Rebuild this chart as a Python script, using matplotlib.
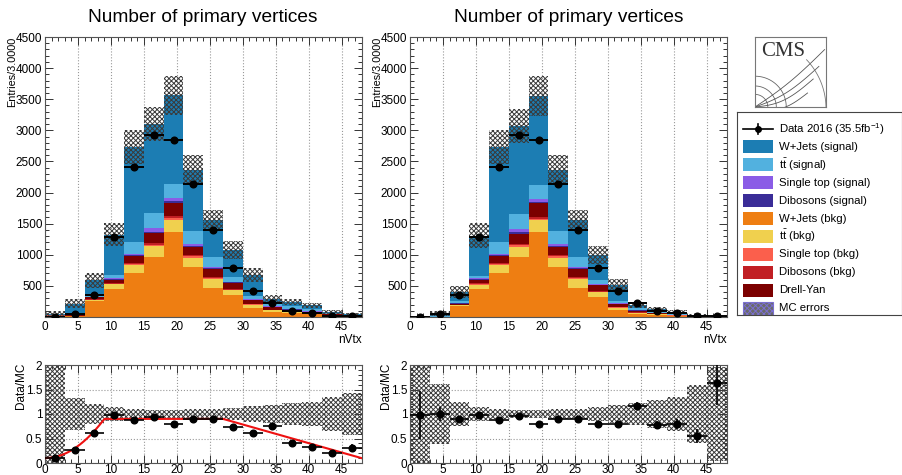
import numpy as np
import matplotlib
matplotlib.use("Agg")
import matplotlib.pyplot as plt
from matplotlib.patches import Rectangle
from matplotlib.ticker import MultipleLocator, FixedLocator

plt.rcParams['font.family'] = ['Liberation Sans', 'DejaVu Sans']
plt.rcParams['mathtext.fontset'] = 'custom'
plt.rcParams['mathtext.rm'] = 'Liberation Sans'
plt.rcParams['mathtext.it'] = 'Liberation Sans:italic'
plt.rcParams['hatch.linewidth'] = 0.7

# ---------------- data ----------------
bin_edges = np.arange(0, 49, 3)
data_counts = [4, 55, 360, 1283, 2405, 2920, 2840, 2140, 1400, 795, 410, 225, 100, 62, 16, 13]

# MC samples, stacked from bottom to top
wjets_bkg   = [22, 18, 253, 457, 709, 966, 1369, 805, 470, 350, 150, 85, 65, 45, 25, 12]
ttbar_bkg   = [2, 3, 22, 69, 123, 172, 188, 151, 140, 80, 45, 20, 15, 10, 5, 3]
stop_bkg    = [1, 1, 4, 10, 18, 25, 30, 20, 12, 8, 8, 5, 4, 3, 2, 1]
diboson_bkg = [1, 1, 6, 12, 20, 30, 30, 25, 15, 10, 10, 8, 6, 5, 2, 1]
drell_yan   = [3, 5, 35, 54, 113, 159, 219, 126, 138, 100, 56, 40, 30, 22, 10, 5]
diboson_sig = [1, 1, 3, 8, 12, 20, 25, 13, 10, 8, 6, 4, 3, 2, 1, 1]
stop_sig    = [1, 1, 5, 15, 25, 51, 45, 30, 15, 14, 10, 8, 6, 5, 2, 1]
ttbar_sig   = [2, 6, 40, 46, 178, 242, 226, 210, 166, 74, 55, 50, 40, 30, 13, 6]
wjets_sig   = [10, 179, 223, 649, 1532, 1435, 1428, 990, 591, 431, 331, 75, 71, 63, 20, 12]

# pile-up weights applied to all MC in the right-hand panel
pu_weight = [0.095, 0.256, 0.677, 0.992, 1.0, 0.99, 0.997, 1.0, 1.0, 0.925, 0.773, 0.65, 0.54, 0.42, 0.36, 0.19]

# relative MC uncertainty per bin (before / after reweighting)
mc_rel_err_raw = [1.2, 0.33, 0.2, 0.14, 0.1, 0.09, 0.09, 0.1, 0.1, 0.13, 0.17, 0.19, 0.22, 0.24, 0.35, 0.42]
mc_rel_err_rw  = [1.2, 0.62, 0.24, 0.15, 0.1, 0.09, 0.09, 0.1, 0.1, 0.14, 0.19, 0.22, 0.28, 0.35, 0.6, 0.95]

# parameters of the reweighting function shown on the left ratio
fit_floor, fit_plateau = 0.1, 0.9
fit_turn_on, fit_fall_start, fit_end_value = 9.0, 27.0, 0.1

sample_labels = ["W+Jets (signal)", r"$\mathrm{t\bar{t}}$ (signal)", "Single top (signal)",
                 "Dibosons (signal)", "W+Jets (bkg)", r"$\mathrm{t\bar{t}}$ (bkg)",
                 "Single top (bkg)", "Dibosons (bkg)", "Drell-Yan"]
sample_colors = ["#1c7db3", "#52b1df", "#8a5ce6", "#3a2c97", "#ee7e12",
                 "#f0d04e", "#fb5f4c", "#c11f24", "#7c0000"]
data_label = r"Data 2016 (35.5fb$^{-1}$)"
err_label = "MC errors"
title_text = "Number of primary vertices"

stack_order = [wjets_bkg, ttbar_bkg, stop_bkg, diboson_bkg, drell_yan,
               diboson_sig, stop_sig, ttbar_sig, wjets_sig]
stack_colors = ["#ee7e12", "#f0d04e", "#fb5f4c", "#c11f24", "#7c0000",
                "#3a2c97", "#8a5ce6", "#52b1df", "#1c7db3"]

# ---------------- figure ----------------
W, H = 902, 475
fig = plt.figure(figsize=(W / 100, H / 100), dpi=100)


def fig_axes(x0, y0, x1, y1):
    return fig.add_axes([x0 / W, 1 - y1 / H, (x1 - x0) / W, (y1 - y0) / H])


centers = 0.5 * (bin_edges[:-1] + bin_edges[1:])
widths = np.diff(bin_edges)
data = np.array(data_counts, float)
data_err = np.sqrt(data)
HATCH = 'xxxxxxx'
HATCH_COLOR = '#3a3a3a'
TICK_FS = 8.5
LABEL_FS = 7.8
AX_W = 316.5


def style_axes(ax, ratio=False):
    ax.set_xlim(0, 48)
    ax.xaxis.set_major_locator(MultipleLocator(5))
    ax.xaxis.set_minor_locator(MultipleLocator(1))
    ax.tick_params(which='both', direction='in', top=True, right=True,
                   labelsize=TICK_FS, width=0.7, color='#333333')
    ax.tick_params(which='major', length=6)
    ax.tick_params(which='minor', length=3)
    ax.tick_params(axis='y', pad=2)
    for s in ax.spines.values():
        s.set_linewidth(0.8)
        s.set_color('#555555')
    if ratio:
        ax.set_ylim(0, 2)
        ax.set_yticks([0, 0.5, 1, 1.5, 2])
        ax.set_yticklabels(['0', '0.5', '1', '1.5', '2'])
        ax.yaxis.set_minor_locator(MultipleLocator(0.1))
        ax.tick_params(axis='x', pad=1)
        ax.grid(which='major', linestyle=':', color='#999999', lw=0.8)
        ax.set_ylabel("Data/MC", fontsize=8.5)
        ax.yaxis.set_label_coords(-24 / AX_W, 1.02)
    else:
        ax.set_ylim(0, 4500)
        ax.yaxis.set_major_locator(FixedLocator(np.arange(500, 4501, 500)))
        ax.yaxis.set_minor_locator(MultipleLocator(100))
        ax.tick_params(axis='x', pad=3)
        ax.grid(axis='x', which='major', linestyle=':', color='#999999', lw=0.8)
        ax.set_ylabel("Entries/3.0000", fontsize=LABEL_FS)
        ax.yaxis.set_label_coords(-33 / AX_W, 1.0)
        ax.set_xlabel("nVtx", fontsize=8.5)
        ax.xaxis.set_label_coords(1.0, -17 / 280)
        ax.xaxis.label.set_ha('right')
        ax.xaxis.label.set_va('top')
    # y labels: text end flush with the top of the frame
    ax.yaxis.label.set_rotation_mode('anchor')
    ax.yaxis.label.set_ha('right')
    ax.yaxis.label.set_va('center')
    ax.set_axisbelow(True)


def draw_stack(ax, weights):
    w = np.array(weights, float)
    bottom = np.zeros(len(centers))
    for comp, col in zip(stack_order, stack_colors):
        vals = np.array(comp, float) * w
        ax.bar(centers, vals, width=widths, bottom=bottom, color=col,
               linewidth=0, zorder=2)
        bottom = bottom + vals
    return bottom


def draw_panel(ax_main, ax_ratio, weights, rel_err, with_fit):
    mc = draw_stack(ax_main, weights)
    rel = np.array(rel_err)
    lo = mc * (1 - rel)
    hi = mc * (1 + rel)
    ax_main.bar(centers, hi - lo, width=widths, bottom=lo, fill=False,
                hatch=HATCH, edgecolor=HATCH_COLOR, linewidth=0, zorder=3)
    ax_main.errorbar(centers, data, yerr=data_err, xerr=widths / 2, fmt='o',
                     color='black', ms=4.8, elinewidth=1.4, capsize=0, zorder=5)
    style_axes(ax_main)

    # ratio panel
    rlo = np.clip(1 - rel, 0, None)
    rhi = 1 + rel
    ax_ratio.bar(centers, rhi - rlo, width=widths, bottom=rlo, fill=False,
                 hatch=HATCH, edgecolor=HATCH_COLOR, linewidth=0, zorder=2)
    ratio = data / mc
    ratio_err = data_err / mc
    ax_ratio.errorbar(centers, ratio, yerr=ratio_err, xerr=widths / 2, fmt='o',
                      color='black', ms=4.8, elinewidth=1.2, capsize=0, zorder=5)
    if with_fit:
        x = np.linspace(0, 48, 400)
        turn = fit_floor + (fit_plateau - fit_floor) * (x / fit_turn_on) ** 2
        fall = fit_plateau + (fit_end_value - fit_plateau) * (x - fit_fall_start) / (48 - fit_fall_start)
        y = np.where(x < fit_turn_on, turn, np.where(x < fit_fall_start, fit_plateau, fall))
        ax_ratio.plot(x, y, color='#ee1111', lw=1.5, zorder=4)
    style_axes(ax_ratio, ratio=True)


# left: raw MC, right: reweighted MC
axL = fig_axes(45, 37, 361.5, 317)
axLr = fig_axes(45, 365, 361.5, 463)
axR = fig_axes(410, 37, 726.5, 317)
axRr = fig_axes(410, 365, 726.5, 463)

draw_panel(axL, axLr, [1.0] * len(centers), mc_rel_err_raw, True)
draw_panel(axR, axRr, pu_weight, mc_rel_err_rw, False)

for ax in (axL, axR):
    ax.set_title(title_text, fontsize=13.8, pad=11)

# ---------------- legend ----------------
leg = fig_axes(737, 112, 901.5, 315)
leg.set_xlim(0, 164.5)
leg.set_ylim(203, 0)
leg.set_xticks([])
leg.set_yticks([])
for s in leg.spines.values():
    s.set_linewidth(0.8)
    s.set_color('#444444')
row0, dy_row = 17, 17.9
LEG_FS = 8.2
leg.plot([6, 36], [row0, row0], color='black', lw=1.2)
leg.plot([21, 21], [row0 - 5, row0 + 5], color='black', lw=1.2)
leg.plot([21], [row0], 'o', color='black', ms=4)
leg.text(42, row0, data_label, fontsize=LEG_FS, va='center', ha='left')
for i, (lab, col) in enumerate(zip(sample_labels, sample_colors)):
    yc = row0 + dy_row * (i + 1)
    leg.add_patch(Rectangle((6, yc - 6.5), 30, 13, facecolor=col, edgecolor='none'))
    leg.text(42, yc, lab, fontsize=LEG_FS, va='center', ha='left')
yc = row0 + dy_row * 10
leg.add_patch(Rectangle((6, yc - 6.5), 30, 13, facecolor='#6a6a6a', edgecolor='#7a6fd0',
                        lw=0.8, hatch='xxxxxx'))
leg.text(42, yc, err_label, fontsize=LEG_FS, va='center', ha='left')

# ---------------- CMS logo ----------------
logo = fig_axes(755, 37, 826, 107)
logo.set_xlim(0, 1)
logo.set_ylim(0, 1)
logo.set_xticks([])
logo.set_yticks([])
for s in logo.spines.values():
    s.set_linewidth(0.8)
    s.set_color('#777777')
logo.text(0.08, 0.79, "CMS", fontsize=15, family=['Liberation Serif', 'DejaVu Serif'],
          color='#333333', va='center', ha='left')
t = np.linspace(0, np.pi / 2, 60)
for r in (0.18, 0.3, 0.44):
    logo.plot(r * np.cos(t), r * np.sin(t), color='#666666', lw=0.6)
u = np.linspace(0, 1, 60)
for ex, ey, bend in ((0.98, 0.82, 0.05), (0.9, 0.58, 0.08), (0.82, 0.4, 0.1), (0.74, 0.2, 0.12)):
    xs = ex * u
    ys = ey * u - bend * np.sin(np.pi * u)
    logo.plot(xs, ys, color='#555555', lw=0.6)
ang = np.linspace(0.0, 0.75, 40)
logo.plot(1.02 * np.cos(ang) - 0.02, 1.02 * np.sin(ang) - 0.02, color='#777777', lw=0.6)

fig.savefig("out.png", dpi=100)
